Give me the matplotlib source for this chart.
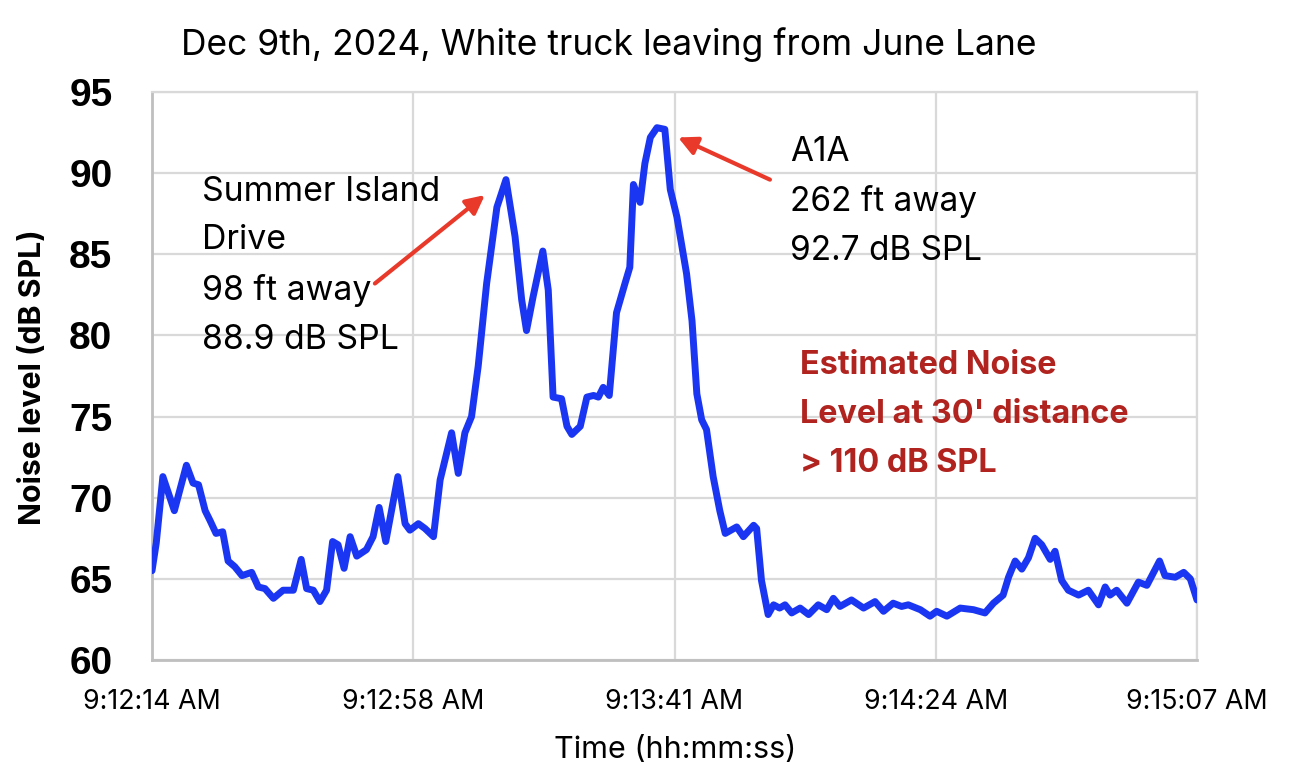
import matplotlib.pyplot as plt

plt.rcParams["font.family"] = ["Inter", "DejaVu Sans"]

TITLE = "Dec 9th, 2024, White truck leaving from June Lane"

# seconds after 9:12:14 AM, noise level in dB SPL
seconds = [
    0.0, 0.7, 1.8, 3.7, 5.7, 6.8, 7.7, 8.8, 9.6, 10.6, 11.7, 12.6, 13.7, 14.9,
    16.5, 17.6, 18.7, 20.1, 21.7, 23.4, 24.7, 25.6, 26.7, 27.8, 28.9, 29.9,
    30.8, 31.8, 32.8, 33.9, 35.5, 36.6, 37.6, 38.7, 40.7, 41.9, 42.7, 44.1,
    45.2, 46.6, 47.7, 49.6, 50.7, 51.8, 52.9, 54.0, 55.4, 57.1, 58.6, 60.1,
    61.2, 62.0, 63.1, 64.7, 65.6, 66.4, 67.8, 68.7, 69.5, 70.9, 72.0, 73.1,
    73.9, 74.7, 75.7, 76.9, 78.3, 79.1, 79.7, 80.8, 81.6, 82.5, 83.6, 84.9,
    85.8, 86.9, 88.5, 89.4, 90.2, 91.0, 91.8, 92.9, 94.0, 94.9, 96.8, 97.9,
    99.6, 100.1, 100.9, 102.0, 102.9, 103.9, 104.8, 105.9, 107.3, 108.7,
    110.3, 111.7, 112.8, 113.9, 115.8, 117.8, 119.7, 121.1, 122.7, 124.1,
    125.2, 127.2, 128.8, 129.9, 131.6, 133.8, 136.0, 137.9, 139.3, 140.9,
    141.8, 142.9, 144.0, 145.1, 146.2, 147.3, 148.7, 149.5, 150.6, 151.7,
    153.4, 155.0, 156.7, 157.8, 158.6, 159.7, 161.4, 163.3, 164.7, 166.8,
    167.7, 169.4, 170.8, 171.9, 173.0,
]
noise_db = [
    65.5, 67.2, 71.3, 69.2, 72.0, 70.9, 70.8, 69.2, 68.6, 67.8, 67.9, 66.1, 65.75, 65.2,
    65.4, 64.5, 64.4, 63.8, 64.3, 64.3, 66.2, 64.4, 64.3, 63.6, 64.3, 67.3,
    67.1, 65.65, 67.6, 66.4, 66.8, 67.6, 69.4, 67.3, 71.3, 68.4, 68.0, 68.4,
    68.1, 67.6, 71.1, 74.0, 71.5, 74.0, 75.0, 78.1, 83.2, 87.9, 89.6, 86.1,
    82.2, 80.3, 82.4, 85.2, 82.8, 76.2, 76.1, 74.4, 73.9, 74.4, 76.2, 76.3,
    76.2, 76.8, 76.3, 81.4, 83.2, 84.2, 89.3, 88.2, 90.6, 92.2, 92.8, 92.7,
    89.0, 87.3, 83.8, 80.9, 76.4, 74.8, 74.2, 71.3, 69.2, 67.8, 68.2, 67.6,
    68.3, 68.1, 64.9, 62.8, 63.4, 63.2, 63.4, 62.9, 63.2, 62.8,
    63.4, 63.1, 63.8, 63.3, 63.7, 63.2, 63.6, 63.0, 63.5, 63.3,
    63.4, 63.1, 62.7, 63.0, 62.7, 63.2, 63.1, 62.9, 63.5, 64.0,
    65.1, 66.1, 65.6, 66.3, 67.5, 67.1, 66.2, 66.7, 64.9, 64.3,
    64.0, 64.3, 63.4, 64.5, 64.0, 64.3, 63.5, 64.8, 64.6, 66.1,
    65.2, 65.1, 65.4, 65.0, 63.7,
]

x_tick_pos = [0, 43.25, 86.5, 129.75, 173]
x_tick_labels = ["9:12:14 AM", "9:12:58 AM", "9:13:41 AM", "9:14:24 AM", "9:15:07 AM"]
y_ticks = [60, 65, 70, 75, 80, 85, 90, 95]

GRID = "#D9D9D9"
LINE = "#1A36F2"
ARROW = "#E8392A"
NOTE_RED = "#B0231E"

W, H = 1290, 778
fig = plt.figure(figsize=(W / 100, H / 100), dpi=100)
ax = fig.add_axes([152 / W, 1 - 660 / H, (1197 - 152) / W, (660 - 92) / H])

ax.plot(seconds, noise_db, color=LINE, lw=5, solid_joinstyle="round",
        solid_capstyle="round", zorder=3)

ax.set_xlim(0, 173)
ax.set_ylim(60, 95)
ax.set_xticks(x_tick_pos)
ax.set_xticklabels(x_tick_labels, fontsize=19.3)
ax.set_yticks(y_ticks)
ax.set_yticklabels([str(v) for v in y_ticks], fontsize=28, fontweight="bold",
                   family="Liberation Sans")
ax.tick_params(axis="x", length=0, pad=21)
ax.tick_params(axis="y", length=0, pad=28.5)
ax.grid(True, color=GRID, lw=1.6, zorder=0)
ax.set_axisbelow(True)
for side in ["top", "right"]:
    ax.spines[side].set_color(GRID)
    ax.spines[side].set_linewidth(1.6)
for side in ["left", "bottom"]:
    ax.spines[side].set_color("#BFBFBF")
    ax.spines[side].set_linewidth(2)

fig.text(609 / W, 1 - 45 / H, TITLE, ha="center", va="center", fontsize=25.5)
fig.text(675 / W, 1 - 750 / H, "Time (hh:mm:ss)", ha="center", va="center", fontsize=22)
fig.text(33 / W, 1 - 377 / H, "Noise level (dB SPL)", ha="center", va="center",
         rotation=90, fontsize=21.8, fontweight="bold")

ax.text(8.3, 84.3, "Summer Island\nDrive\n98 ft away\n88.9 dB SPL", ha="left",
        va="center", fontsize=24.4, linespacing=1.67)
ax.text(105.6, 88.25, "A1A\n262 ft away\n92.7 dB SPL", ha="left", va="center",
        fontsize=24, linespacing=1.67)
ax.text(107.3, 75.1, "Estimated Noise\nLevel at 30' distance\n> 110 dB SPL", ha="left",
        va="center", fontsize=23.3, fontweight="bold", color=NOTE_RED, linespacing=1.75)

arrow_style = dict(arrowstyle="-|>", color=ARROW, lw=3, mutation_scale=28,
                   shrinkA=0, shrinkB=0)
ax.annotate("", xy=(55.1, 88.65), xytext=(36.9, 83.2), arrowprops=arrow_style)
ax.annotate("", xy=(87.1, 92.2), xytext=(102.3, 89.6), arrowprops=arrow_style)

fig.savefig("out.png", dpi=100)
